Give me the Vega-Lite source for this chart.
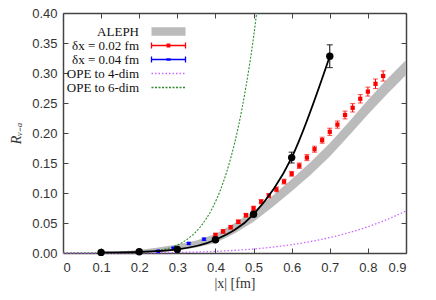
{
  "$schema": "https://vega.github.io/schema/vega-lite/v6.json",
  "width": 343,
  "height": 240,
  "autosize": "none",
  "padding": {"left": 63, "top": 13, "right": 30, "bottom": 47},
  "background": "white",
  "datasets": {
    "aleph": [
      {"x": 0.15, "lo": 0.0, "hi": 0.0025},
      {"x": 0.20, "lo": 0.0, "hi": 0.005},
      {"x": 0.25, "lo": 0.001, "hi": 0.009},
      {"x": 0.30, "lo": 0.004, "hi": 0.014},
      {"x": 0.35, "lo": 0.009, "hi": 0.021},
      {"x": 0.40, "lo": 0.0165, "hi": 0.0315},
      {"x": 0.45, "lo": 0.0325, "hi": 0.0495},
      {"x": 0.50, "lo": 0.052, "hi": 0.070},
      {"x": 0.55, "lo": 0.0765, "hi": 0.0955},
      {"x": 0.60, "lo": 0.103, "hi": 0.123},
      {"x": 0.65, "lo": 0.1305, "hi": 0.1515},
      {"x": 0.70, "lo": 0.161, "hi": 0.183},
      {"x": 0.75, "lo": 0.1955, "hi": 0.2185},
      {"x": 0.80, "lo": 0.231, "hi": 0.255},
      {"x": 0.85, "lo": 0.2645, "hi": 0.2895},
      {"x": 0.90, "lo": 0.2965, "hi": 0.3215}
    ],
    "ope4": [
      {"x": 0.0, "y": 0.0}, {"x": 0.1, "y": 0.00001}, {"x": 0.2, "y": 0.00017},
      {"x": 0.25, "y": 0.0004}, {"x": 0.3, "y": 0.0009}, {"x": 0.35, "y": 0.0016},
      {"x": 0.4, "y": 0.0027}, {"x": 0.45, "y": 0.0044}, {"x": 0.5, "y": 0.0067},
      {"x": 0.55, "y": 0.0098}, {"x": 0.6, "y": 0.0139}, {"x": 0.65, "y": 0.0191},
      {"x": 0.7, "y": 0.0257}, {"x": 0.75, "y": 0.0339}, {"x": 0.8, "y": 0.0438},
      {"x": 0.85, "y": 0.0558}, {"x": 0.9, "y": 0.070}
    ],
    "ope6": [
      {"x": 0.0, "y": 0.0}, {"x": 0.1, "y": 0.00001}, {"x": 0.2, "y": 0.001},
      {"x": 0.25, "y": 0.0041}, {"x": 0.3, "y": 0.0133}, {"x": 0.33, "y": 0.0247},
      {"x": 0.36, "y": 0.0433}, {"x": 0.39, "y": 0.0725}, {"x": 0.42, "y": 0.117},
      {"x": 0.44, "y": 0.158}, {"x": 0.46, "y": 0.210}, {"x": 0.48, "y": 0.277},
      {"x": 0.50, "y": 0.360}, {"x": 0.508, "y": 0.400}
    ],
    "blue": [
      {"x": 0.25, "y": 0.003, "lo": 0.002, "hi": 0.004},
      {"x": 0.29, "y": 0.008, "lo": 0.0068, "hi": 0.0092},
      {"x": 0.33, "y": 0.016, "lo": 0.0145, "hi": 0.0175},
      {"x": 0.37, "y": 0.023, "lo": 0.0212, "hi": 0.0248}
    ],
    "red": [
      {"x": 0.40, "y": 0.030, "lo": 0.027, "hi": 0.033},
      {"x": 0.42, "y": 0.036, "lo": 0.033, "hi": 0.039},
      {"x": 0.44, "y": 0.043, "lo": 0.040, "hi": 0.046},
      {"x": 0.46, "y": 0.052, "lo": 0.049, "hi": 0.055},
      {"x": 0.48, "y": 0.063, "lo": 0.060, "hi": 0.066},
      {"x": 0.50, "y": 0.0745, "lo": 0.071, "hi": 0.078},
      {"x": 0.52, "y": 0.0855, "lo": 0.082, "hi": 0.089},
      {"x": 0.54, "y": 0.0955, "lo": 0.092, "hi": 0.099},
      {"x": 0.56, "y": 0.106, "lo": 0.102, "hi": 0.110},
      {"x": 0.58, "y": 0.119, "lo": 0.115, "hi": 0.123},
      {"x": 0.60, "y": 0.132, "lo": 0.128, "hi": 0.136},
      {"x": 0.62, "y": 0.1455, "lo": 0.141, "hi": 0.150},
      {"x": 0.64, "y": 0.159, "lo": 0.154, "hi": 0.164},
      {"x": 0.66, "y": 0.173, "lo": 0.168, "hi": 0.178},
      {"x": 0.68, "y": 0.188, "lo": 0.183, "hi": 0.193},
      {"x": 0.70, "y": 0.202, "lo": 0.196, "hi": 0.208},
      {"x": 0.72, "y": 0.214, "lo": 0.208, "hi": 0.220},
      {"x": 0.74, "y": 0.230, "lo": 0.2235, "hi": 0.2365},
      {"x": 0.76, "y": 0.242, "lo": 0.235, "hi": 0.249},
      {"x": 0.78, "y": 0.257, "lo": 0.250, "hi": 0.264},
      {"x": 0.80, "y": 0.269, "lo": 0.2615, "hi": 0.2765},
      {"x": 0.82, "y": 0.282, "lo": 0.274, "hi": 0.290},
      {"x": 0.84, "y": 0.295, "lo": 0.2865, "hi": 0.3035}
    ],
    "lattice": [
      {"x": 0.1, "y": 0.001, "lo": 0.0005, "hi": 0.0015},
      {"x": 0.2, "y": 0.002, "lo": 0.0015, "hi": 0.0025},
      {"x": 0.3, "y": 0.006, "lo": 0.005, "hi": 0.007},
      {"x": 0.4, "y": 0.022, "lo": 0.020, "hi": 0.024},
      {"x": 0.5, "y": 0.0645, "lo": 0.0615, "hi": 0.0675},
      {"x": 0.6, "y": 0.159, "lo": 0.150, "hi": 0.168},
      {"x": 0.7, "y": 0.328, "lo": 0.309, "hi": 0.347}
    ],
    "none": []
  },
  "layer": [
    {
      "data": {"name": "aleph"},
      "mark": {"type": "area", "color": "#bbbbbb", "opacity": 1},
      "encoding": {
        "x": {"field": "x", "type": "quantitative",
          "scale": {"domain": [0, 0.9], "nice": false, "zero": false},
          "axis": {"orient": "bottom", "values": [0, 0.1, 0.2, 0.3, 0.4, 0.5, 0.6, 0.7, 0.8, 0.9],
            "format": ".1~f", "labelPadding": 13, "title": "|x| [fm]", "titlePadding": 2}},
        "y": {"field": "lo", "type": "quantitative",
          "scale": {"domain": [0, 0.4], "nice": false, "zero": false},
          "axis": {"orient": "left", "values": [0, 0.05, 0.1, 0.15, 0.2, 0.25, 0.3, 0.35, 0.4],
            "format": ".2f", "labelPadding": 11, "title": "Rᵥ₋ₐ", "titleFontStyle": "italic", "titlePadding": 8}},
        "y2": {"field": "hi"}
      }
    },
    {
      "data": {"name": "ope4"},
      "mark": {"type": "line", "color": "#cc66ff", "strokeDash": [1.5, 2], "strokeWidth": 1.3, "interpolate": "monotone"},
      "encoding": {
        "x": {"field": "x", "type": "quantitative",
          "scale": {"domain": [0, 0.9], "nice": false, "zero": false},
          "axis": {"orient": "top", "values": [0, 0.1, 0.2, 0.3, 0.4, 0.5, 0.6, 0.7, 0.8, 0.9], "labels": false, "title": null}},
        "y": {"field": "y", "type": "quantitative",
          "scale": {"domain": [0, 0.4], "nice": false, "zero": false},
          "axis": {"orient": "right", "values": [0, 0.05, 0.1, 0.15, 0.2, 0.25, 0.3, 0.35, 0.4], "labels": false, "title": null}}
      }
    },
    {
      "data": {"name": "ope6"},
      "mark": {"type": "line", "color": "#2e8b2e", "strokeDash": [2, 1.5], "strokeWidth": 1.1, "interpolate": "monotone", "clip": true},
      "encoding": {
        "x": {"field": "x", "type": "quantitative", "scale": {"domain": [0, 0.9], "nice": false, "zero": false}, "axis": null},
        "y": {"field": "y", "type": "quantitative", "scale": {"domain": [0, 0.4], "nice": false, "zero": false}, "axis": null}
      }
    },
    {
      "data": {"name": "blue"},
      "mark": {"type": "errorbar", "color": "#0000ff", "ticks": {"size": 5, "thickness": 1}},
      "encoding": {
        "x": {"field": "x", "type": "quantitative", "scale": {"domain": [0, 0.9], "nice": false, "zero": false}, "axis": null},
        "y": {"field": "lo", "type": "quantitative", "scale": {"domain": [0, 0.4], "nice": false, "zero": false}, "axis": null},
        "y2": {"field": "hi"}
      }
    },
    {
      "data": {"name": "blue"},
      "mark": {"type": "square", "color": "#0000ff", "size": 12, "opacity": 1, "filled": true},
      "encoding": {
        "x": {"field": "x", "type": "quantitative", "scale": {"domain": [0, 0.9], "nice": false, "zero": false}, "axis": null},
        "y": {"field": "y", "type": "quantitative", "scale": {"domain": [0, 0.4], "nice": false, "zero": false}, "axis": null}
      }
    },
    {
      "data": {"name": "red"},
      "mark": {"type": "errorbar", "color": "#ff0000", "ticks": {"size": 5, "thickness": 1}},
      "encoding": {
        "x": {"field": "x", "type": "quantitative", "scale": {"domain": [0, 0.9], "nice": false, "zero": false}, "axis": null},
        "y": {"field": "lo", "type": "quantitative", "scale": {"domain": [0, 0.4], "nice": false, "zero": false}, "axis": null},
        "y2": {"field": "hi"}
      }
    },
    {
      "data": {"name": "red"},
      "mark": {"type": "square", "color": "#ff0000", "size": 18, "opacity": 1, "filled": true},
      "encoding": {
        "x": {"field": "x", "type": "quantitative", "scale": {"domain": [0, 0.9], "nice": false, "zero": false}, "axis": null},
        "y": {"field": "y", "type": "quantitative", "scale": {"domain": [0, 0.4], "nice": false, "zero": false}, "axis": null}
      }
    },
    {
      "data": {"name": "lattice"},
      "mark": {"type": "line", "color": "#000000", "strokeWidth": 1.8, "interpolate": "monotone"},
      "encoding": {
        "x": {"field": "x", "type": "quantitative", "scale": {"domain": [0, 0.9], "nice": false, "zero": false}, "axis": null},
        "y": {"field": "y", "type": "quantitative", "scale": {"domain": [0, 0.4], "nice": false, "zero": false}, "axis": null}
      }
    },
    {
      "data": {"name": "lattice"},
      "mark": {"type": "errorbar", "color": "#000000", "ticks": {"size": 6, "thickness": 1.2}},
      "encoding": {
        "x": {"field": "x", "type": "quantitative", "scale": {"domain": [0, 0.9], "nice": false, "zero": false}, "axis": null},
        "y": {"field": "lo", "type": "quantitative", "scale": {"domain": [0, 0.4], "nice": false, "zero": false}, "axis": null},
        "y2": {"field": "hi"}
      }
    },
    {
      "data": {"name": "lattice"},
      "mark": {"type": "circle", "color": "#000000", "size": 55, "opacity": 1},
      "encoding": {
        "x": {"field": "x", "type": "quantitative", "scale": {"domain": [0, 0.9], "nice": false, "zero": false}, "axis": null},
        "y": {"field": "y", "type": "quantitative", "scale": {"domain": [0, 0.4], "nice": false, "zero": false}, "axis": null}
      }
    },
    {
      "data": {"name": "none"},
      "mark": {"type": "point", "filled": false, "opacity": 1, "size": 100, "strokeWidth": 1.3},
      "encoding": {
        "color": {"datum": "ALEPH", "type": "nominal",
          "scale": {"domain": ["ALEPH", "δx = 0.02 fm", "δx = 0.04 fm", "OPE to 4-dim", "OPE to 6-dim"],
            "range": ["#bbbbbb", "#ff0000", "#0000ff", "#cc66ff", "#2e8b2e"]},
          "legend": {"title": null}},
        "shape": {"datum": "ALEPH", "type": "nominal",
          "scale": {"domain": ["ALEPH", "δx = 0.02 fm", "δx = 0.04 fm", "OPE to 4-dim", "OPE to 6-dim"],
            "range": [
              "M-3.4,-0.7H3.4M-3.4,-0.5H3.4M-3.4,-0.3H3.4M-3.4,-0.1H3.4M-3.4,0.1H3.4M-3.4,0.3H3.4M-3.4,0.5H3.4M-3.4,0.7H3.4",
              "M-3.4,0H3.4M-3.4,-0.6V0.6M3.4,-0.6V0.6M-0.25,-0.25H0.25V0.25H-0.25Z",
              "M-3.4,0H3.4M-3.4,-0.6V0.6M3.4,-0.6V0.6M-0.3,-0.1H0.3V0.1H-0.3Z",
              "M-3.4,0H-3.1M-2.7,0H-2.4M-2,0H-1.7M-1.3,0H-1M-0.6,0H-0.3M0.1,0H0.4M0.8,0H1.1M1.5,0H1.8M2.2,0H2.5M2.9,0H3.2",
              "M-3.4,0H-3M-2.7,0H-2.3M-2,0H-1.6M-1.3,0H-0.9M-0.6,0H-0.2M0.1,0H0.5M0.8,0H1.2M1.5,0H1.9M2.2,0H2.6M2.9,0H3.3"
            ]},
          "legend": {"title": null}}
      }
    }
  ],
  "resolve": {"axis": {"x": "independent", "y": "independent"}},
  "config": {
    "view": {"stroke": null},
    "axis": {
      "domainColor": "#444444", "domainWidth": 1.5, "tickColor": "#444444", "tickWidth": 1,
      "tickSize": -5, "grid": false,
      "labelFont": "Liberation Sans", "labelFontSize": 13, "labelColor": "#333333",
      "titleFont": "Liberation Serif", "titleFontSize": 14, "titleFontWeight": "normal", "titleColor": "#333333"
    },
    "legend": {
      "orient": "none", "legendX": 99, "legendY": 12, "padding": 0,
      "direction": "vertical", "symbolSize": 100, "rowPadding": 0, "symbolStrokeWidth": 1.3,
      "labelAlign": "right", "labelOffset": -36, "labelFont": "Liberation Serif",
      "labelFontSize": 13, "labelColor": "#111111", "symbolOpacity": 1
    }
  }
}
